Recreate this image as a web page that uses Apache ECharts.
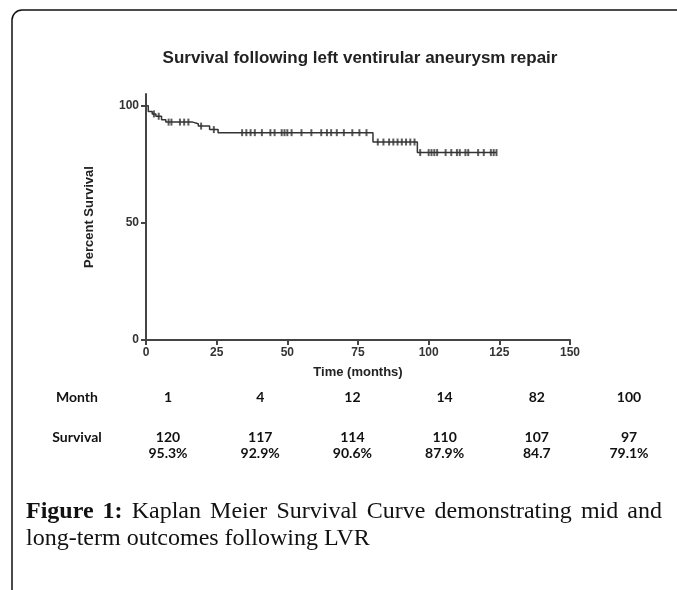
<!DOCTYPE html>
<html>
<head>
<meta charset="utf-8">
<script src="https://cdn.jsdelivr.net/npm/echarts@6/dist/echarts.min.js"></script>
<style>
  html, body { margin: 0; padding: 0; background: #fff; }
  #chart { width: 677px; height: 590px; }
</style>
</head>
<body>
<div id="chart"></div>
<script>
var dom = document.getElementById('chart');
var myChart = echarts.init(dom);

// Kaplan-Meier steps (time in months, percent survival after the step)
var stepTimes = [0, 0.8, 2.2, 3.5, 5.5, 7, 16.5, 18.5, 22.5, 25.5, 80.3, 96, 124];
var stepSurvival = [100, 97.5, 96.5, 95.5, 94, 93, 92.3, 91.3, 89.8, 88.5, 84.5, 80, 80];

// censored observations (tick marks)
var censorTimes = [2.8, 4.5, 8, 9, 12, 13.5, 15, 19.5, 24,
    34, 35.5, 37, 38.5, 41, 44, 45.5, 48, 49, 50, 51.5, 55, 58.5, 62, 64, 65.5, 67.5, 70, 73, 75.5, 78,
    82, 84, 86, 87.5, 89, 90.5, 92, 93.5, 95,
    97, 100, 101, 102, 103, 106, 108, 110, 111, 113, 114, 117.5, 119.5, 122, 123, 124];

// table under the chart
var months = [1, 4, 12, 14, 82, 100];
var atRisk = [120, 117, 114, 110, 107, 97];
var survivalPct = ['95.3%', '92.9%', '90.6%', '87.9%', '84.7', '79.1%'];

var titleText = 'Survival following left ventirular aneurysm repair';
var captionLine1 = ['Figure', '1:', 'Kaplan', 'Meier', 'Survival', 'Curve', 'demonstrating', 'mid', 'and'];
var captionLine2 = 'long-term outcomes following LVR';

function survivalAt(t) {
    var s = stepSurvival[0];
    for (var i = 0; i < stepTimes.length; i++) {
        if (stepTimes[i] <= t) s = stepSurvival[i];
    }
    return s;
}

var ctx = document.createElement('canvas').getContext('2d');
function measure(text, font) {
    ctx.font = font;
    return ctx.measureText(text).width;
}

var axisFont = { color: '#333', fontWeight: 'bold', fontSize: 12, fontFamily: 'Liberation Sans' };
var nameFont = { color: '#222', fontWeight: 'bold', fontSize: 13, fontFamily: 'Liberation Sans' };
var tableFont = '700 14px Lato';
var capBold = 'bold 24px "Liberation Serif"';
var capNormal = '24px "Liberation Serif"';

var graphics = [];
// frame
graphics.push({
    type: 'rect', silent: true,
    shape: { x: 12, y: 10, width: 760, height: 700, r: 10 },
    style: { fill: null, stroke: '#111', lineWidth: 1.5 }
});
// chart title
graphics.push({
    type: 'text', x: 360, y: 58,
    style: { text: titleText, font: 'bold 17px "Liberation Sans"', fill: '#222', align: 'center', verticalAlign: 'middle' }
});
// table
var colX0 = 168, colStep = 92.2;
graphics.push({ type: 'text', x: 77, y: 397, style: { text: 'Month', font: tableFont, fill: '#111', align: 'center', verticalAlign: 'middle' } });
graphics.push({ type: 'text', x: 77, y: 437, style: { text: 'Survival', font: tableFont, fill: '#111', align: 'center', verticalAlign: 'middle' } });
months.forEach(function (m, i) {
    var cx = colX0 + i * colStep;
    graphics.push({ type: 'text', x: cx, y: 397, style: { text: String(m), font: tableFont, fill: '#111', align: 'center', verticalAlign: 'middle' } });
    graphics.push({ type: 'text', x: cx, y: 437, style: { text: String(atRisk[i]), font: tableFont, fill: '#111', align: 'center', verticalAlign: 'middle' } });
    graphics.push({ type: 'text', x: cx, y: 453, style: { text: survivalPct[i], font: tableFont, fill: '#111', align: 'center', verticalAlign: 'middle' } });
});
// caption, first line justified
var capLeft = 26, capRight = 662;
var fonts1 = captionLine1.map(function (w, i) { return i < 2 ? capBold : capNormal; });
var total = 0;
captionLine1.forEach(function (w, i) { total += measure(w, fonts1[i]); });
var gap = (capRight - capLeft - total) / (captionLine1.length - 1);
var cx = capLeft;
captionLine1.forEach(function (w, i) {
    graphics.push({ type: 'text', x: cx, y: 512, style: { text: w, font: fonts1[i], fill: '#111', align: 'left', verticalAlign: 'middle' } });
    cx += measure(w, fonts1[i]) + gap;
});
graphics.push({ type: 'text', x: capLeft, y: 539, style: { text: captionLine2, font: capNormal, fill: '#111', align: 'left', verticalAlign: 'middle' } });

var option = {
    animation: false,
    backgroundColor: '#fff',
    grid: { left: 146, right: 107, top: 94, bottom: 250 },
    xAxis: {
        type: 'value',
        min: 0, max: 150, interval: 25,
        name: 'Time (months)',
        nameLocation: 'middle',
        nameGap: 26,
        nameTextStyle: nameFont,
        axisLine: { lineStyle: { color: '#444', width: 2 } },
        axisTick: { show: true, length: 5, lineStyle: { color: '#444', width: 2 } },
        axisLabel: Object.assign({ margin: 7 }, axisFont),
        splitLine: { show: false }
    },
    yAxis: {
        type: 'value',
        min: 0, max: 105, interval: 50,
        name: 'Percent Survival',
        nameLocation: 'middle',
        nameRotate: 90,
        nameGap: 50,
        nameTextStyle: nameFont,
        axisLine: { show: true, lineStyle: { color: '#444', width: 2 } },
        axisTick: { show: true, length: 5, lineStyle: { color: '#444', width: 2 } },
        axisLabel: Object.assign({
            margin: 7,
            showMaxLabel: false,
            formatter: function (v) { return v % 50 === 0 ? String(v) : ''; }
        }, axisFont),
        splitLine: { show: false }
    },
    series: [{
        type: 'line',
        step: 'end',
        symbol: 'none',
        data: stepTimes.map(function (t, i) { return [t, stepSurvival[i]]; }),
        lineStyle: { color: '#333', width: 1.5 }
    }, {
        type: 'scatter',
        symbol: 'rect',
        symbolSize: [2, 7],
        data: censorTimes.map(function (t) { return [t, survivalAt(t)]; }),
        itemStyle: { color: '#333' }
    }],
    graphic: graphics
};

myChart.setOption(option);
</script>
</body>
</html>
